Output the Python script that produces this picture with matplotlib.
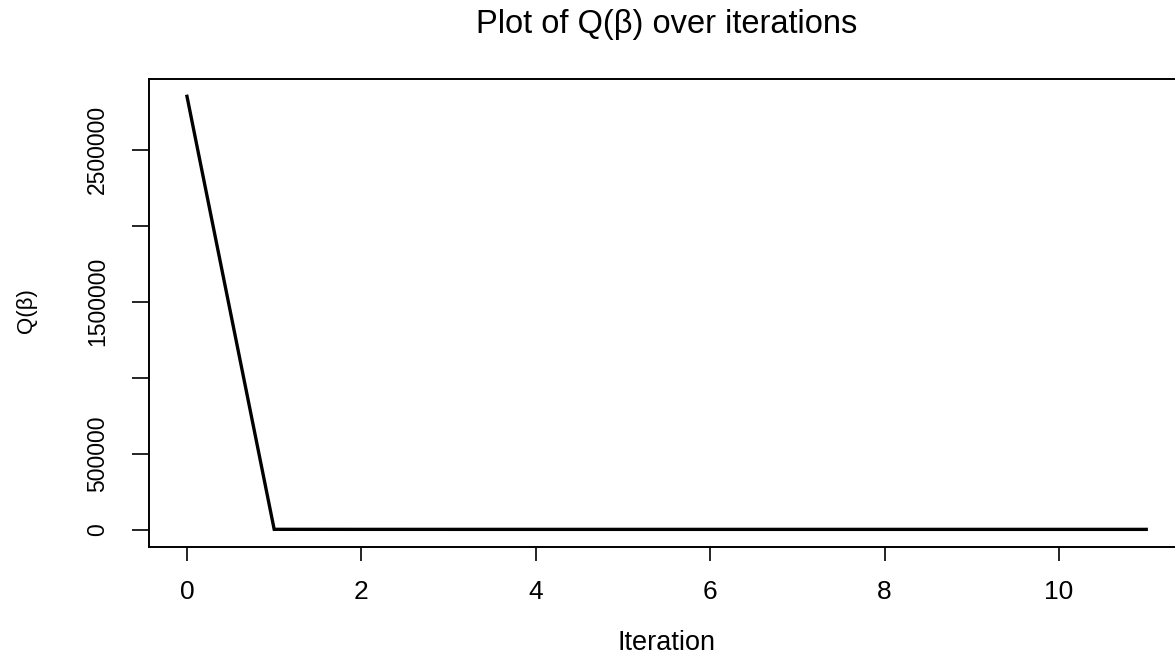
import matplotlib.pyplot as plt
import numpy as np

plt.rcParams['font.family'] = ['Liberation Sans', 'DejaVu Sans']

# Q(beta) value at each iteration
iterations = np.arange(0, 12)
q_values = [2850000, 1200, 900, 850, 840, 835, 832, 830, 829, 828, 828, 828]

x_ticks = [0, 2, 4, 6, 8, 10]
y_ticks = [0, 500000, 1000000, 1500000, 2000000, 2500000]
y_labels = ['0', '500000', '', '1500000', '', '2500000']


def main():
    fig = plt.figure(figsize=(11.75, 6.54), dpi=100)
    ax = fig.add_axes([148.6 / 1175, 107.3 / 654, 1036 / 1175, 467.7 / 654])

    ax.plot(iterations, q_values, color='black', linewidth=2.4,
            solid_joinstyle='miter')

    # R style 4% padding on both axes
    xr = iterations.max() - iterations.min()
    ax.set_xlim(iterations.min() - 0.04 * xr, iterations.max() + 0.04 * xr)
    yr = max(q_values) - min(q_values)
    ax.set_ylim(min(q_values) - 0.04 * yr, max(q_values) + 0.04 * yr)

    ax.set_xticks(x_ticks)
    ax.set_xticklabels([str(t) for t in x_ticks], fontsize=19)
    ax.set_yticks(y_ticks)
    ax.set_yticklabels(y_labels, fontsize=16.5, rotation=90, va='center')

    ax.tick_params(axis='x', length=10, width=1.2, pad=14)
    ax.tick_params(axis='y', length=12.5, width=1.2, pad=16)
    for s in ax.spines.values():
        s.set_linewidth(1.4)

    fig.text(666.6 / 1175, 4.5 / 654, 'Iteration', ha='center',
             va='baseline', fontsize=19.5)
    fig.text(26 / 1175, 1 - 311 / 654, 'Q(β)', ha='center', va='center',
             rotation=90, fontsize=16)

    fig.text(666.6 / 1175, 1 - 33 / 654, 'Plot of Q(β) over iterations',
             ha='center', va='baseline', fontsize=23.5)

    plt.savefig('out.png', dpi=100)


if __name__ == '__main__':
    main()
